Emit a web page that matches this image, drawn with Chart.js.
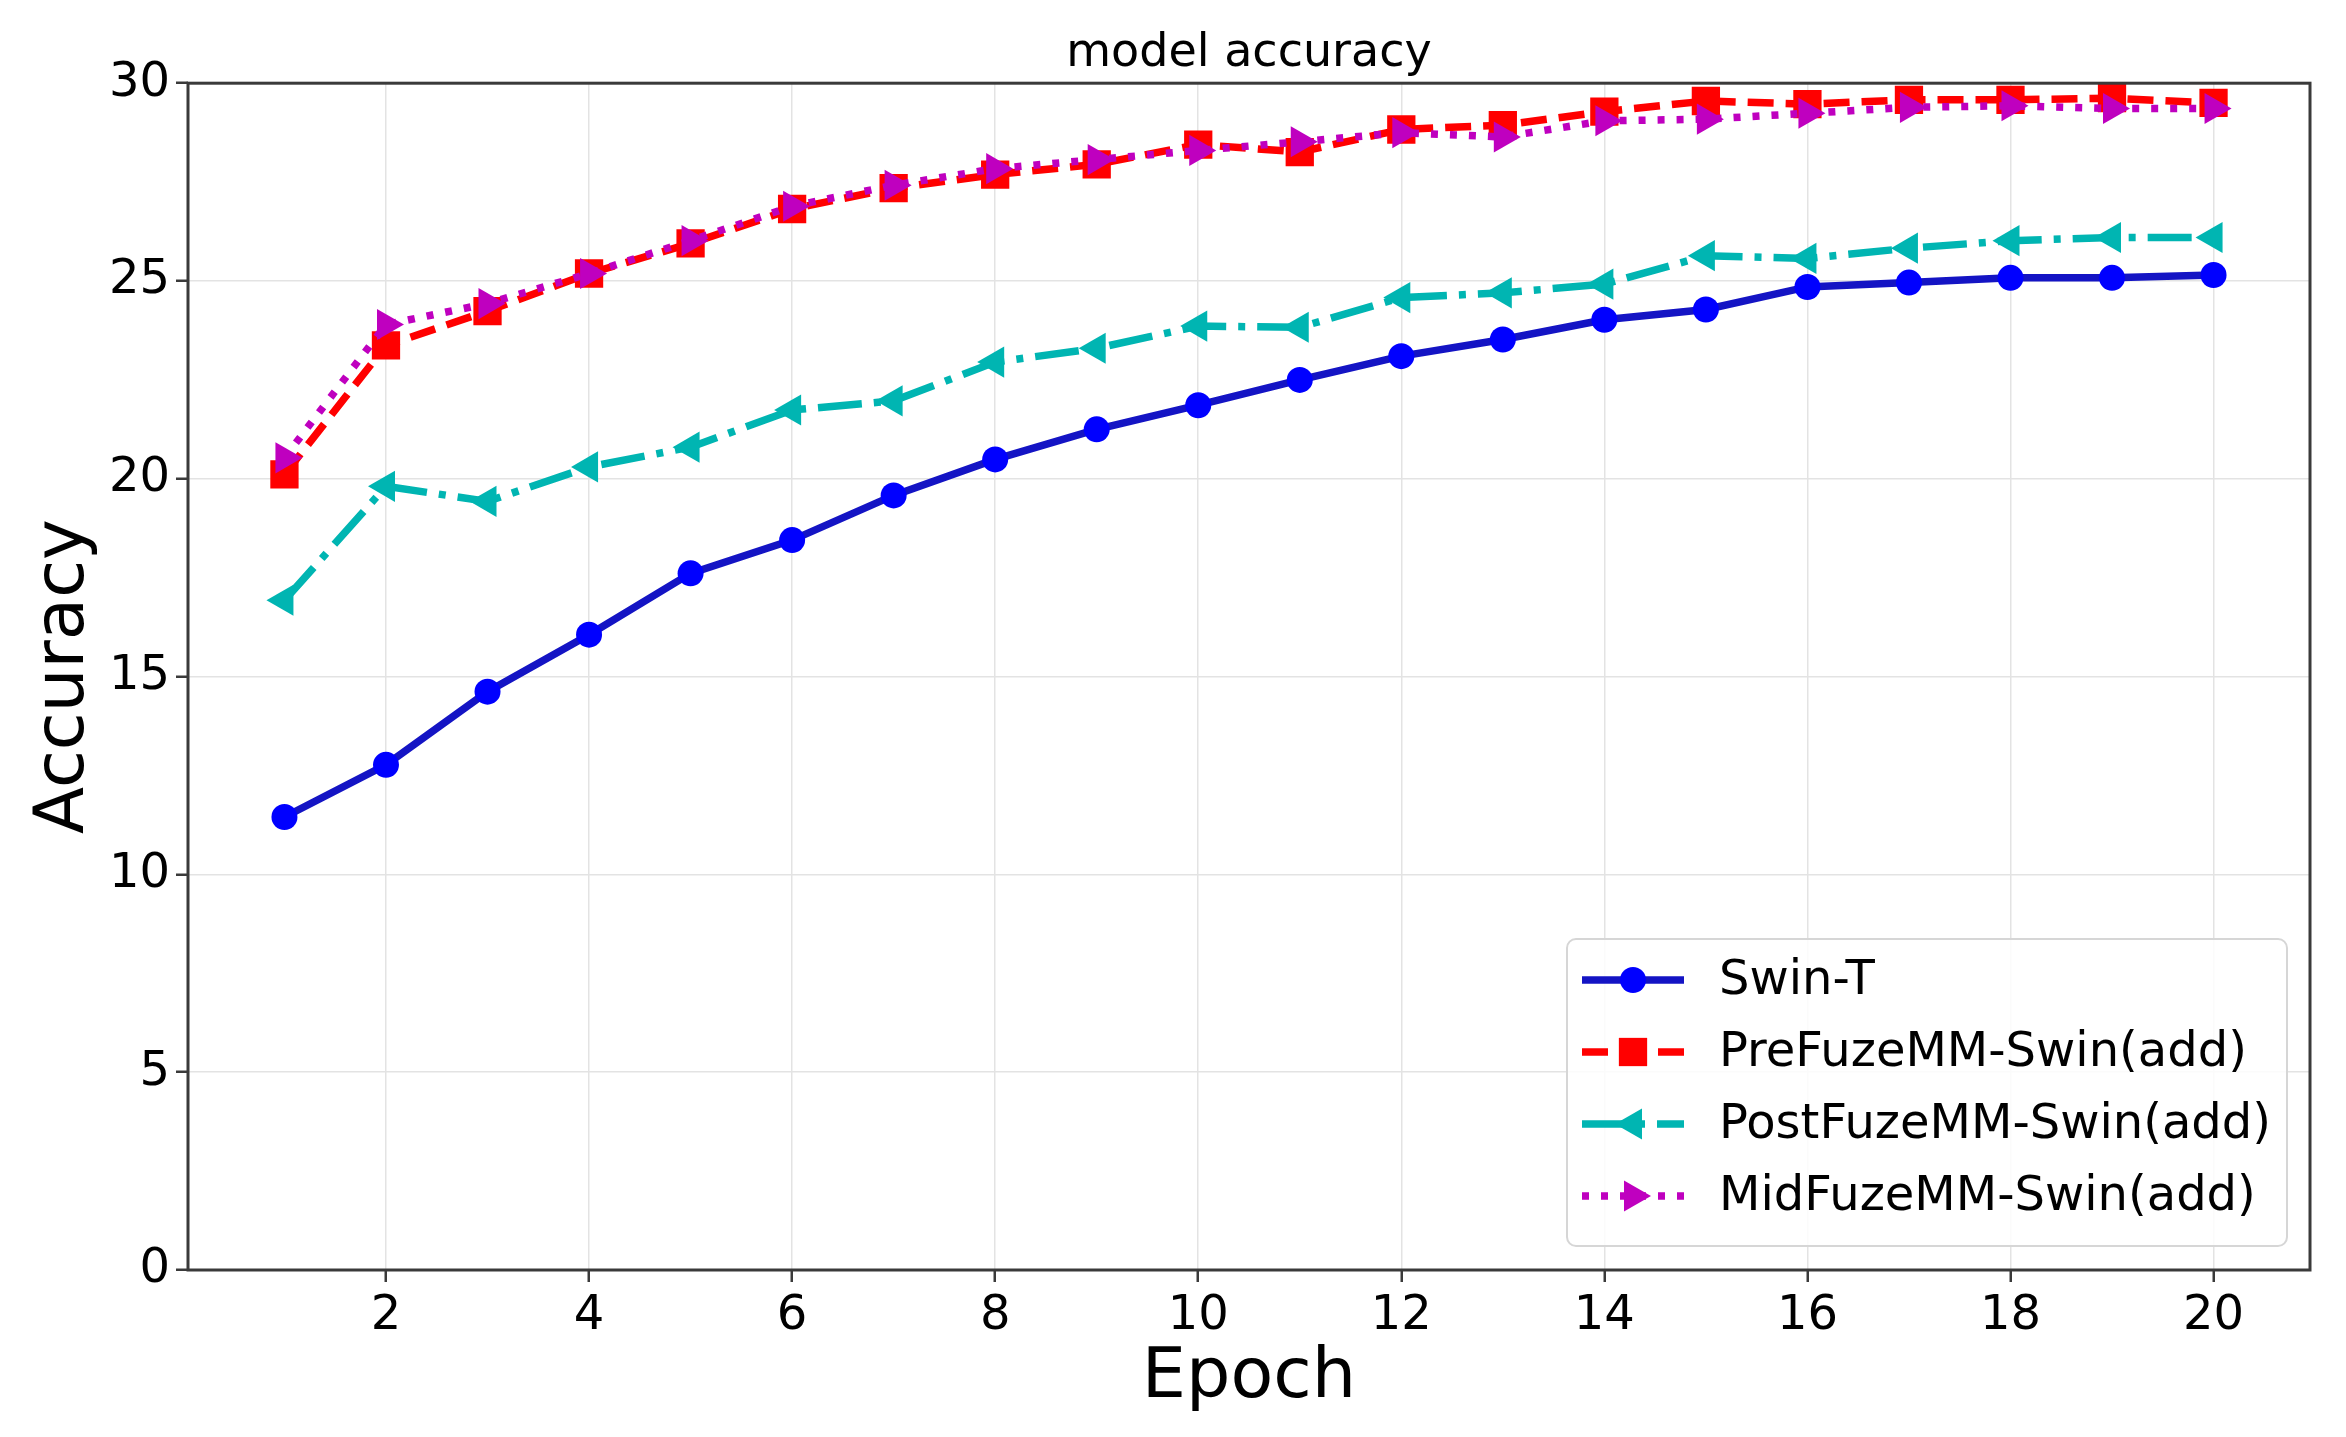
<!DOCTYPE html>
<html>
<head>
<meta charset="utf-8">
<title>model accuracy</title>
<script src="https://cdn.jsdelivr.net/npm/chart.js@4.4.1/dist/chart.umd.min.js"></script>
<style>
  html, body { margin: 0; padding: 0; background: #fff; overflow: hidden; }
  canvas { display: block; }
</style>
</head>
<body>
<canvas id="accChart" width="2346" height="1437"></canvas>
<script>
// dane
const epochs = [1, 2, 3, 4, 5, 6, 7, 8, 9, 10, 11, 12, 13, 14, 15, 16, 17, 18, 19, 20];
const swinT = [11.45, 12.77, 14.62, 16.06, 17.61, 18.45, 19.58, 20.49, 21.25, 21.86, 22.5, 23.1, 23.52, 24.02, 24.28, 24.85, 24.96, 25.08, 25.08, 25.15];
const preFuze = [20.11, 23.37, 24.24, 25.19, 25.95, 26.82, 27.35, 27.69, 27.95, 28.45, 28.26, 28.83, 28.94, 29.28, 29.55, 29.47, 29.58, 29.58, 29.62, 29.5];
const postFuze = [16.93, 19.81, 19.43, 20.3, 20.8, 21.74, 21.97, 22.95, 23.3, 23.86, 23.83, 24.58, 24.7, 24.92, 25.64, 25.57, 25.83, 26.02, 26.1, 26.1];
const midFuze = [20.53, 23.9, 24.43, 25.19, 26.02, 26.89, 27.42, 27.84, 28.07, 28.3, 28.52, 28.75, 28.64, 29.05, 29.09, 29.24, 29.39, 29.43, 29.36, 29.36];
const seriesNames = ['Swin-T', 'PreFuzeMM-Swin(add)', 'PostFuzeMM-Swin(add)', 'MidFuzeMM-Swin(add)'];
const xTicks = [2, 4, 6, 8, 10, 12, 14, 16, 18, 20];
const yTicks = [0, 5, 10, 15, 20, 25, 30];

const FONT = '"DejaVu Sans", "Liberation Sans", sans-serif';

function toPoints(values) {
  return values.map((v, i) => ({ x: epochs[i], y: v }));
}

// rysowanie znacznika (legenda)
function drawMarker(ctx, style, rotation, r, x, y) {
  ctx.save();
  ctx.translate(x, y);
  ctx.rotate(rotation * Math.PI / 180);
  ctx.beginPath();
  if (style === 'circle') {
    ctx.arc(0, 0, r, 0, Math.PI * 2);
  } else if (style === 'rect') {
    const s = Math.SQRT1_2 * r;
    ctx.rect(-s, -s, 2 * s, 2 * s);
  } else {
    const h = r * 1.5, w = r * Math.sqrt(3) / 2;
    ctx.moveTo(0, -r);
    ctx.lineTo(w, h - r);
    ctx.lineTo(-w, h - r);
    ctx.closePath();
  }
  ctx.fill();
  ctx.restore();
}

// ramka wokół obszaru wykresu
const frame = {
  id: 'frame',
  afterDatasetsDraw(chart) {
    const { ctx, chartArea: a } = chart;
    ctx.save();
    ctx.strokeStyle = '#3a3a3a';
    ctx.lineWidth = 3;
    ctx.strokeRect(a.left, a.top, a.right - a.left, a.bottom - a.top);
    ctx.restore();
  }
};

// legenda w prawym dolnym rogu
const legendBox = {
  id: 'legendBox',
  afterDraw(chart) {
    const { ctx, chartArea: a } = chart;
    const sets = chart.data.datasets;
    ctx.save();
    ctx.font = '48px ' + FONT;
    const textW = Math.max(...sets.map(d => ctx.measureText(d.label).width));
    const rowH = 72;
    const w = 152 + textW + 16;
    const h = 5 + rowH * sets.length + 14;
    const right = a.right - 23, bottom = a.bottom - 24;
    const left = right - w, top = bottom - h;

    ctx.beginPath();
    ctx.roundRect(left, top, w, h, 9);
    ctx.fillStyle = 'rgba(255,255,255,0.85)';
    ctx.fill();
    ctx.strokeStyle = '#d6d6d6';
    ctx.lineWidth = 2;
    ctx.stroke();

    sets.forEach((d, i) => {
      const cy = top + 5 + rowH * i + rowH / 2;
      const x0 = left + 15, x1 = left + 117;
      ctx.beginPath();
      ctx.setLineDash(d.borderDash || []);
      ctx.strokeStyle = d.borderColor;
      ctx.lineWidth = d.borderWidth;
      ctx.moveTo(x0, cy);
      ctx.lineTo(x1, cy);
      ctx.stroke();
      ctx.setLineDash([]);
      ctx.fillStyle = d.pointBackgroundColor;
      drawMarker(ctx, d.pointStyle, d.pointRotation || 0, d.pointRadius, (x0 + x1) / 2, cy);
      ctx.fillStyle = '#000';
      ctx.textBaseline = 'middle';
      ctx.textAlign = 'left';
      ctx.fillText(d.label, left + 152, cy + 2);
    });
    ctx.restore();
  }
};

const ctx = document.getElementById('accChart').getContext('2d');

new Chart(ctx, {
  type: 'line',
  data: {
    datasets: [
      {
        label: seriesNames[0],
        data: toPoints(swinT),
        borderColor: '#1414c4',
        borderWidth: 7.5,
        pointStyle: 'circle',
        pointRadius: 13,
        pointBackgroundColor: '#0000ff',
        pointBorderWidth: 0,
        order: 4
      },
      {
        label: seriesNames[1],
        data: toPoints(preFuze),
        borderColor: '#ff0000',
        borderWidth: 7.5,
        borderDash: [26, 12],
        pointStyle: 'rect',
        pointRadius: 20,
        pointBackgroundColor: '#ff0000',
        pointBorderWidth: 0,
        order: 3
      },
      {
        label: seriesNames[2],
        data: toPoints(postFuze),
        borderColor: '#00b5b2',
        borderWidth: 7.5,
        borderDash: [44, 12, 7, 12],
        pointStyle: 'triangle',
        pointRotation: -90,
        pointRadius: 18,
        pointBackgroundColor: '#00b5b2',
        pointBorderWidth: 0,
        order: 2
      },
      {
        label: seriesNames[3],
        data: toPoints(midFuze),
        borderColor: '#bf00bf',
        borderWidth: 7.5,
        borderDash: [7, 12],
        pointStyle: 'triangle',
        pointRotation: 90,
        pointRadius: 18,
        pointBackgroundColor: '#bf00bf',
        pointBorderWidth: 0,
        order: 1
      }
    ]
  },
  options: {
    responsive: false,
    animation: false,
    devicePixelRatio: 1,
    layout: { padding: { left: 0, right: 36, top: 0, bottom: 0 } },
    elements: { line: { tension: 0, borderCapStyle: 'butt' } },
    plugins: {
      legend: { display: false },
      tooltip: { enabled: false },
      title: {
        display: true,
        fullSize: false,
        text: 'model accuracy',
        color: '#000',
        font: { family: FONT, size: 46, weight: 'normal', lineHeight: 1.2 },
        padding: { top: 26, bottom: 2 }
      }
    },
    scales: {
      x: {
        type: 'linear',
        min: 0.05,
        max: 20.95,
        afterBuildTicks: s => { s.ticks = xTicks.map(v => ({ value: v })); },
        afterFit: s => { s.height = 167; },
        border: { display: false },
        grid: { color: '#e3e3e3', lineWidth: 1.5, tickLength: 12, tickColor: '#3a3a3a', tickWidth: 2.5 },
        ticks: { color: '#000', padding: 6, maxRotation: 0, font: { family: FONT, size: 48 } },
        title: {
          display: true,
          text: 'Epoch',
          color: '#000',
          font: { family: FONT, size: 70, lineHeight: 1.2 },
          padding: { top: 0, bottom: 16 }
        }
      },
      y: {
        min: 0,
        max: 30,
        afterBuildTicks: s => { s.ticks = yTicks.map(v => ({ value: v })); },
        afterFit: s => { s.width = 188; },
        border: { display: false },
        grid: { color: '#e3e3e3', lineWidth: 1.5, tickLength: 12, tickColor: '#3a3a3a', tickWidth: 2.5 },
        ticks: { color: '#000', padding: 6, font: { family: FONT, size: 48 } },
        title: {
          display: true,
          text: 'Accuracy',
          color: '#000',
          font: { family: FONT, size: 69, lineHeight: 1.2 },
          padding: { top: 24, bottom: 0 }
        }
      }
    }
  },
  plugins: [frame, legendBox]
});
</script>
</body>
</html>
